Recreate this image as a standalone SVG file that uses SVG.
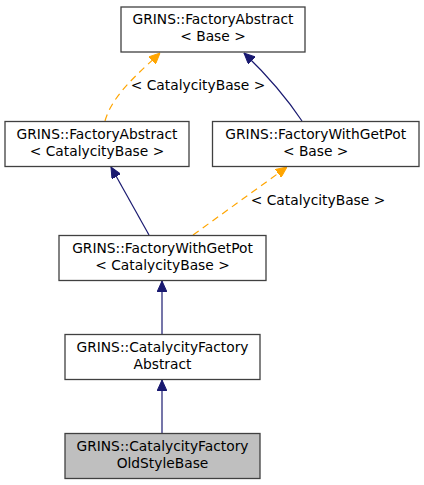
<svg xmlns="http://www.w3.org/2000/svg" width="424" height="485" viewBox="0 0 424 485">
<style>
.box{fill:#ffffff;stroke:#404040;stroke-width:1.3}
.hl{fill:#bfbfbf}
text{font-family:"DejaVu Sans","Liberation Sans",sans-serif;font-size:13.8px;fill:#000;text-anchor:middle}
.inh{fill:none;stroke:#191970;stroke-width:1.2}
.tpl{fill:none;stroke:#ffa500;stroke-width:1.2;stroke-dasharray:7,5}
</style>
<defs>
<marker id="an" viewBox="0 0 11 10" refX="11" refY="5" markerWidth="11" markerHeight="10" markerUnits="userSpaceOnUse" orient="auto">
<path d="M0,0 L11,5 L0,10 z" fill="#191970" stroke="#191970"/>
</marker>
<marker id="ao" viewBox="0 0 11 10" refX="11" refY="5" markerWidth="11" markerHeight="10" markerUnits="userSpaceOnUse" orient="auto">
<path d="M0,0 L11,5 L0,10 z" fill="#ffa500" stroke="#ffa500"/>
</marker>
</defs>
<g id="connectors">
<path class="inh" d="M302,121 C288,100 272,80 244,53" marker-end="url(#an)"/>
<path class="tpl" d="M105,121 C112,95 140,72 160,53" marker-end="url(#ao)"/>
<text x="198" y="90">&lt; CatalycityBase &gt;</text>
<path class="inh" d="M149,235 L111,167" marker-end="url(#an)"/>
<path class="tpl" d="M193,235 L287,167" marker-end="url(#ao)"/>
<text x="318" y="205">&lt; CatalycityBase &gt;</text>
<path class="inh" d="M162,334 L162,281" marker-end="url(#an)"/>
<path class="inh" d="M162,433 L162,380" marker-end="url(#an)"/>
</g>
<g id="node_A">
<rect class="box" x="121" y="7" width="184" height="45"/>
<text x="213" y="24">GRINS::FactoryAbstract</text>
<text x="213" y="41">&lt; Base &gt;</text>
</g>
<g id="node_B">
<rect class="box" x="5" y="121.5" width="184" height="45"/>
<text x="97" y="138.5">GRINS::FactoryAbstract</text>
<text x="97" y="155.5">&lt; CatalycityBase &gt;</text>
</g>
<g id="node_C">
<rect class="box" x="212.5" y="121.5" width="206.5" height="45"/>
<text x="315.7" y="138.5">GRINS::FactoryWithGetPot</text>
<text x="315.7" y="155.5">&lt; Base &gt;</text>
</g>
<g id="node_D">
<rect class="box" x="59" y="235.5" width="207" height="45"/>
<text x="162.5" y="252.5">GRINS::FactoryWithGetPot</text>
<text x="162.5" y="269.5">&lt; CatalycityBase &gt;</text>
</g>
<g id="node_E">
<rect class="box" x="65" y="334.5" width="195" height="45"/>
<text x="162.5" y="351.5">GRINS::CatalycityFactory</text>
<text x="162.5" y="368.5">Abstract</text>
</g>
<g id="node_F">
<rect class="box hl" x="65" y="433.5" width="195" height="45"/>
<text x="162.5" y="450.5">GRINS::CatalycityFactory</text>
<text x="162.5" y="467.5">OldStyleBase</text>
</g>
</svg>
